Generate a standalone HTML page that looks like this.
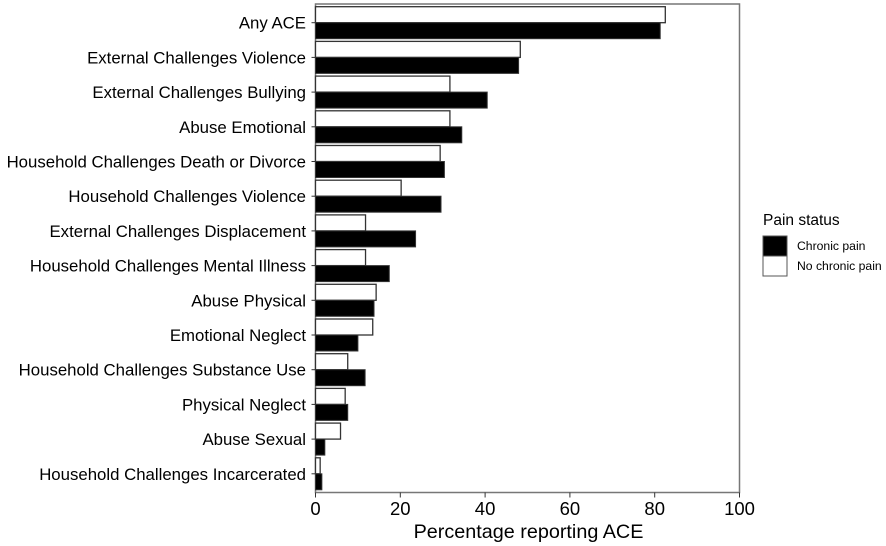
<!DOCTYPE html>
<html><head><meta charset="utf-8"><style>
body{margin:0;background:#fff;}
svg{display:block;font-family:"Liberation Sans",Arial,sans-serif;}
</style></head><body>
<svg id="chart" width="886" height="546"></svg>
<script>
const categories=["Any ACE","External Challenges Violence","External Challenges Bullying","Abuse Emotional","Household Challenges Death or Divorce","Household Challenges Violence","External Challenges Displacement","Household Challenges Mental Illness","Abuse Physical","Emotional Neglect","Household Challenges Substance Use","Physical Neglect","Abuse Sexual","Household Challenges Incarcerated"];
const noChronic=[82.5,48.3,31.7,31.7,29.4,20.2,11.8,11.8,14.3,13.5,7.6,7.0,5.9,1.1];
const chronic=[81.3,47.9,40.5,34.5,30.4,29.6,23.6,17.4,13.8,10.0,11.7,7.6,2.2,1.5];
const ticks=[0,20,40,60,80,100];
const NS="http://www.w3.org/2000/svg";
const svg=document.getElementById("chart");
const x0=315.5,x1=739.5,yTop=4,yBot=492.5,band=34.7,c0=22.7,bh=16;
const xs=v=>x0+(v-0)/100*(x1-x0);
const yc=i=>c0+band*i;
function mk(t,a){const e=document.createElementNS(NS,t);for(const k in a)e.setAttribute(k,a[k]);svg.appendChild(e);return e;}
let frame=mk("rect",{x:x0,y:yTop,width:x1-x0,height:yBot-yTop,fill:"#fff",stroke:"#777","stroke-width":1.5});


categories.forEach((c,i)=>{
  let w=mk("rect",{x:x0,y:yc(i)-bh,width:xs(noChronic[i])-x0,height:bh,fill:"#fff",stroke:"#333","stroke-width":1.3});
  
  
  let b=mk("rect",{x:x0,y:yc(i),width:xs(chronic[i])-x0,height:bh,fill:"#000",stroke:"#333","stroke-width":1});
  
  
  let tk=mk("line",{x1:x0-4,x2:x0,y1:yc(i),y2:yc(i),stroke:"#333","stroke-width":1});
  
  
  let t=mk("text",{x:306,y:yc(i)+6,"text-anchor":"end","font-size":16.8,fill:"#000"});
  t.textContent=c;
  
  
});
ticks.forEach(v=>{
  let l=mk("line",{x1:xs(v),x2:xs(v),y1:yBot,y2:yBot+5,stroke:"#333","stroke-width":1});
  
  
  let t=mk("text",{x:xs(v),y:515,"text-anchor":"middle","font-size":18.5,fill:"#000"});
  t.textContent=v;
  
  
});
let xt=mk("text",{x:(x0+x1)/2+1,y:538,"text-anchor":"middle","font-size":19.8,fill:"#000"});
xt.textContent="Percentage reporting ACE";


let lt=mk("text",{x:763,y:225,"font-size":15.5,fill:"#000"});
lt.textContent="Pain status";


let k1=mk("rect",{x:763,y:236,width:24,height:20,fill:"#000",stroke:"#555"});


let k2=mk("rect",{x:763,y:256,width:24,height:20,fill:"#fff",stroke:"#555"});


let l1=mk("text",{x:797,y:250,"font-size":12.2,fill:"#000"});
l1.textContent="Chronic pain";


let l2=mk("text",{x:797,y:270,"font-size":12.2,fill:"#000"});
l2.textContent="No chronic pain";


</script>
</body></html>
